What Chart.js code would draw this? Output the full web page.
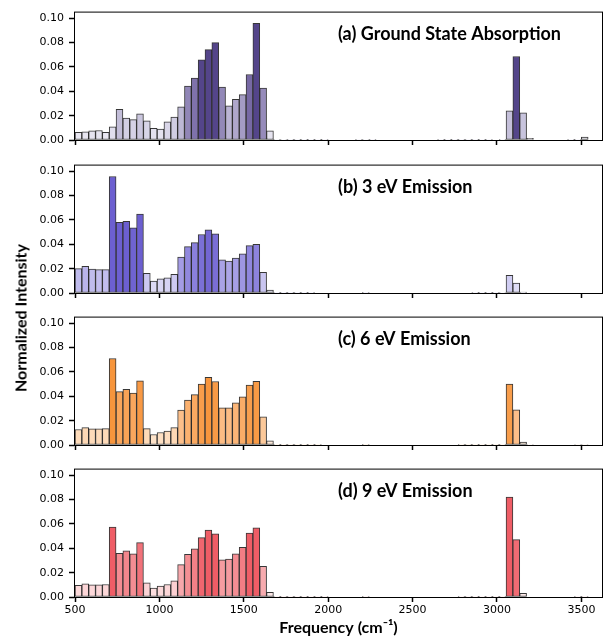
<!DOCTYPE html>
<html>
<head>
<meta charset="utf-8">
<script src="https://cdn.jsdelivr.net/npm/chart.js@4"></script>
<style>
body{margin:0;background:#fff;width:605px;height:637px;overflow:hidden;position:relative;}
canvas{position:absolute;left:0;}
#ylab{position:absolute;left:20px;top:318px;transform:translate(-50%,-50%) rotate(-90deg);font:bold 16px Lato;white-space:nowrap;color:#000;}
</style>
</head>
<body>
<canvas id="g1" width="605" height="152" style="top:0px"></canvas>
<canvas id="g2" width="605" height="152" style="top:152.5px"></canvas>
<canvas id="g3" width="605" height="152" style="top:305px"></canvas>
<canvas id="g4" width="605" height="180" style="top:457px"></canvas>
<div id="ylab">Normalized Intensity</div>
<script>
// bins do histograma (cm-1)
const binStart = 500;
const binWidth = 3040 / 75;
const xTicks = [500, 1000, 1500, 2000, 2500, 3000, 3500];
const yTicks = [0, 0.02, 0.04, 0.06, 0.08, 0.10];

const titulos = ["(a) Ground State Absorption", "(b) 3 eV Emission", "(c) 6 eV Emission", "(d) 9 eV Emission"];

// -------- intensidades normalizadas (75 bins)
const absorcao = [
0.0062,0.0068,0.0076,0.0078,0.0062,0.0108,0.0251,0.0181,0.0168,0.0216,
0.0157,0.0095,0.0089,0.0149,0.0189,0.0273,0.0443,0.0508,0.0659,0.0743,
0.0800,0.0435,0.0281,0.0335,0.0373,0.0538,0.0959,0.0427,0.0076,0.0005,
0.0004,0.0003,0.0003,0.0003,0.0003,0.0002,0.0002,0,0,0,
0,0.0002,0.0004,0.0002,0,0,0,0,0,0,
0,0,0,0.0002,0.0002,0.0002,0.0002,0.0002,0.0002,0.0002,
0.0002,0,0.0006,0.0240,0.0686,0.0224,0.0013,0,0,0,
0,0,0.0002,0.0002,0.0024];

const emissao3 = [
0.0200,0.0219,0.0197,0.0192,0.0192,0.0957,0.0581,0.0589,0.0535,0.0649,
0.0162,0.0097,0.0116,0.0124,0.0154,0.0295,0.0381,0.0414,0.0481,0.0519,
0.0486,0.0273,0.0262,0.0286,0.0322,0.0389,0.0400,0.0170,0.0024,0.0003,
0.0003,0.0003,0.0003,0.0003,0.0002,0,0,0,0,0,
0,0,0.0003,0,0,0,0,0,0,0,
0,0,0,0,0,0,0,0,0.0002,0.0002,
0.0002,0.0002,0.0004,0.0146,0.0081,0.0008,0,0,0,0,
0,0,0,0,0];

const emissao6 = [
0.0127,0.0143,0.0132,0.0132,0.0135,0.0711,0.0438,0.0457,0.0427,0.0527,
0.0135,0.0086,0.0103,0.0114,0.0143,0.0286,0.0370,0.0414,0.0500,0.0557,
0.0522,0.0305,0.0305,0.0346,0.0395,0.0492,0.0524,0.0232,0.0035,0.0003,
0.0003,0.0003,0.0003,0.0003,0.0003,0.0003,0,0,0,0,
0,0,0.0003,0,0,0,0,0,0,0,
0,0,0,0,0,0,0.0002,0.0002,0.0002,0.0002,
0.0002,0.0002,0.0005,0.0500,0.0289,0.0024,0.0004,0,0,0,
0,0,0,0.0004,0.0004];

const emissao9 = [
0.0095,0.0108,0.0100,0.0100,0.0103,0.0575,0.0358,0.0380,0.0355,0.0447,
0.0117,0.0073,0.0089,0.0103,0.0133,0.0266,0.0350,0.0396,0.0488,0.0550,
0.0520,0.0306,0.0312,0.0355,0.0409,0.0526,0.0569,0.0252,0.0038,0.0003,
0.0003,0.0003,0.0003,0.0003,0.0003,0.0003,0.0003,0,0,0,
0,0,0.0005,0,0,0,0,0,0,0,
0,0,0,0,0,0,0.0002,0.0002,0.0002,0.0002,
0.0002,0.0002,0.0005,0.0820,0.0471,0.0030,0,0,0,0,
0,0,0,0.0006,0.0006];

const centros = absorcao.map((_, i) => binStart + (i + 0.5) * binWidth);

// paletas (claro -> escuro)
const paletas = [
["#f4f3f9","#d6d3e6","#b0a9cc","#8376ad","#54458a"],
["#f0effb","#d3d0f3","#a8a1e6","#8a80dc","#6c5fd0"],
["#fef0e4","#fdd9b6","#fcc08c","#faa85f","#f7953c"],
["#fef0f0","#fbd0d2","#f7a9ad","#f38389","#ef5d66"]
];
const saturacao = [0.066, 0.055, 0.056, 0.052];

function hex(h){
return [parseInt(h.slice(1,3),16), parseInt(h.slice(3,5),16), parseInt(h.slice(5,7),16)];
}

function cor(v, pal, vsat){
let t = Math.min(v / vsat, 1) * (pal.length - 1);
let i = Math.min(Math.floor(t), pal.length - 2);
let f = t - i;
let a = hex(pal[i]), b = hex(pal[i+1]);
let c = a.map((x, k) => Math.round(x + (b[k] - x) * f));
return "rgb(" + c.join(",") + ")";
}

const caixa = {
id: "caixa",
afterDraw(chart){
const {ctx, chartArea:{left, top, right, bottom}} = chart;
ctx.save();
ctx.strokeStyle = "#000";
ctx.lineWidth = 1;
ctx.strokeRect(left + 0.5, top + 0.5, right - left - 1, bottom - top);
ctx.fillStyle = "#000";
ctx.font = "bold 18px Lato";
ctx.textBaseline = "alphabetic";
ctx.fillText(chart.options.plugins.rotulo.texto, left + 264, top + 28);
ctx.restore();
}
};

function painel(id, vals, n, ultimo){
new Chart(document.getElementById(id), {
type: "bar",
data: {
datasets: [{
data: vals.map((v, i) => ({x: centros[i], y: v})),
backgroundColor: vals.map(v => cor(v, paletas[n], saturacao[n])),
borderColor: "rgba(20,20,20,0.85)",
borderWidth: 1,
borderSkipped: false,
barPercentage: 1,
categoryPercentage: 1
}]
},
options: {
responsive: false,
animation: false,
layout: {padding: {top: 10, right: 2, left: 0, bottom: 0}},
plugins: {legend: {display: false}, tooltip: {enabled: false}, rotulo: {texto: titulos[n]}},
scales: {
x: {
type: "linear", min: 494, max: 3628, offset: false,
afterBuildTicks: s => { s.ticks = xTicks.map(v => ({value: v})); },
afterFit: s => { s.height = ultimo ? 40 : 12; },
grid: {offset: false, drawOnChartArea: false, drawTicks: true, tickLength: 5, tickWidth: 1.5, tickColor: "#000"},
border: {display: false},
ticks: {display: ultimo, color: "#000", font: {family: "DejaVu Sans", size: 11}, padding: 2, maxRotation: 0, callback: v => v},
title: {display: ultimo, text: "Frequency (cm⁻¹)", color: "#000", font: {family: "Lato", weight: "bold", size: 16}, padding: 0}
},
y: {
min: 0, max: 0.1055,
afterBuildTicks: s => { s.ticks = yTicks.map(v => ({value: v})); },
afterFit: s => { s.width = 74; },
grid: {drawOnChartArea: false, drawTicks: true, tickLength: 5, tickWidth: 1.5, tickColor: "#000"},
border: {display: false},
ticks: {color: "#000", font: {family: "DejaVu Sans", size: 11}, padding: 5, callback: v => v.toFixed(2)}
}
}
},
plugins: [caixa]
});
}

painel("g1", absorcao, 0, false);
painel("g2", emissao3, 1, false);
painel("g3", emissao6, 2, false);
painel("g4", emissao9, 3, true);
</script>
</body>
</html>
